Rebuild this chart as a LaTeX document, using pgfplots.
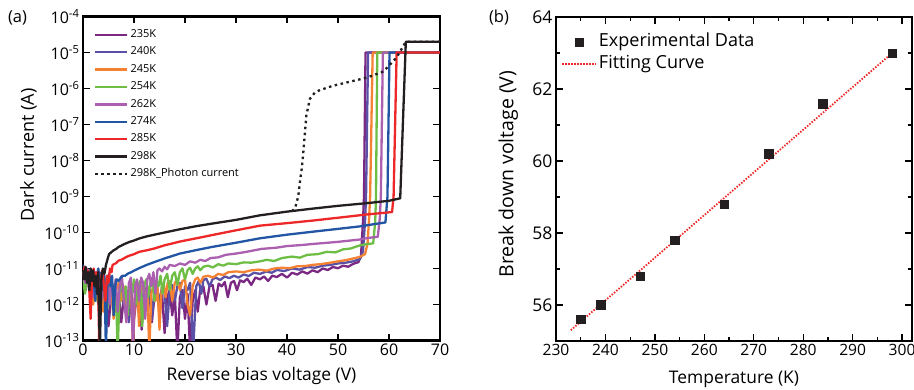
\documentclass[border=0pt]{standalone}
\usepackage{fontspec}
\setmainfont{Open Sans}
\usepackage{pgfplots}
\pgfplotsset{compat=1.18}
\definecolor{cA}{HTML}{7A2882}
\definecolor{cB}{HTML}{5A50A5}
\definecolor{cC}{HTML}{F58232}
\definecolor{cD}{HTML}{6EBE46}
\definecolor{cE}{HTML}{AA5FAF}
\definecolor{cF}{HTML}{2355A5}
\definecolor{cG}{HTML}{EE2828}
\definecolor{cH}{HTML}{231F20}
\definecolor{fitred}{HTML}{EE2828}
\pgfplotsset{
  markimg/.style={legend image code/.code={\draw[##1] plot coordinates {(17pt,0pt)};}},
  lineimg/.style={legend image code/.code={\draw[##1] (0pt,0pt) -- (34pt,0pt);}},
}
\begin{document}
\begin{tikzpicture}[x=1pt,y=1pt]
\useasboundingbox (0,0) rectangle (914,390);
\node[font=\fontsize{16.5}{19}\selectfont] at (17.5,372) {(a)};
\node[font=\fontsize{16.5}{19}\selectfont] at (499,372) {(b)};
\begin{axis}[
  at={(83pt,49.5pt)}, anchor=south west,
  scale only axis, width=357pt, height=324pt,
  xmin=0, xmax=70, ymode=log, ymin=1e-13, ymax=1e-4,
  xtick={0,10,20,30,40,50,60,70},
  ytick={1e-13,1e-12,1e-11,1e-10,1e-9,1e-8,1e-7,1e-6,1e-5,1e-4},
  yticklabels={10\textsuperscript{-13},10\textsuperscript{-12},10\textsuperscript{-11},10\textsuperscript{-10},10\textsuperscript{-9},10\textsuperscript{-8},10\textsuperscript{-7},10\textsuperscript{-6},10\textsuperscript{-5},10\textsuperscript{-4}},
  yminorticks=false,
  tick align=inside,
  major tick length=7pt,
  every tick/.style={black, line width=1.6pt},
  axis line style={line width=2.5pt},
  tick label style={font=\fontsize{16}{19}\selectfont},
  /pgf/number format/assume math mode=true,
  xlabel={Reverse bias voltage (V)},
  ylabel={Dark current (A)},
  xlabel style={font=\fontsize{17.4}{20}\selectfont, at={(axis description cs:0.5,-0.108)}, anchor=center},
  ylabel style={font=\fontsize{18}{21}\selectfont, at={(axis description cs:-0.153,0.573)}, anchor=center},
  legend cell align=left,
  legend image code/.code={\draw[#1] (0pt,0pt) -- (32pt,0pt);},
  legend style={at={(axis description cs:0.031,0.965)}, anchor=north west, draw=none, fill=none, inner sep=0pt,
    font=\fontsize{11}{13}\selectfont, row sep=3.9pt,
    nodes={inner sep=2pt, text height=7.5pt, text depth=2pt}},
  every axis plot/.append style={line width=2.3pt, line join=round},
]
% 235K
\addplot[cA] coordinates {(0,6e-12)(0.5,2.5e-12)(1,7e-12)(1.5,3e-12)(2,8e-12)(2.5,3.2e-12)(3,1.5e-12)(3.5,4e-12)(4,1e-12)(4.5,2.5e-12)(5,2.5e-13)(5.5,1.6e-12)(6,2.5e-12)(6.5,6.3e-13)(7,2e-12)(7.5,3.2e-13)(8,1.6e-12)(8.5,2.5e-12)(9,7.9e-13)(9.5,2e-12)(10,4e-13)(10.5,1.6e-12)(11,2.5e-12)(11.5,2e-13)(12,2e-12)(12.5,1e-12)(13,2.5e-12)(13.5,3.2e-13)(14,1.6e-12)(14.5,2.8e-12)(15,6.3e-13)(15.5,2e-12)(16,1.6e-13)(16.5,1.6e-12)(17,2.5e-12)(17.5,5e-13)(18,2e-12)(18.5,5e-14)(19,1.6e-12)(19.5,2.5e-12)(20,4e-13)(20.5,2e-12)(21,5e-14)(21.5,1.26e-12)(22,2.5e-12)(22.5,6.3e-13)(23,2.8e-12)(23.6,3.2e-12)(24.2,1e-12)(24.8,3.2e-12)(25.4,3.5e-12)(26,1.26e-12)(26.6,3.8e-12)(27.2,3.2e-12)(27.8,4.2e-12)(28.4,1.6e-12)(29,4e-12)(29.6,4.5e-12)(30.2,2.5e-12)(30.8,4.7e-12)(31.5,4.2e-12)(32.2,5.2e-12)(33,3.5e-12)(33.8,5.6e-12)(34.7,5e-12)(35.5,6e-12)(36.3,4.5e-12)(37.1,6.3e-12)(38,5.8e-12)(39,7.1e-12)(40,5.6e-12)(41,7.6e-12)(42,6.8e-12)(43,8.3e-12)(44,7.2e-12)(45,8.9e-12)(46,7.9e-12)(47,1e-11)(48,9.1e-12)(49,1.1e-11)(50,1.02e-11)(51,1.2e-11)(52,1.12e-11)(53,1.35e-11)(54,1.5e-11)(54.5,2.2e-11)(54.9,2e-10)(55.1,1e-9)(55.4,1e-5)(70,1e-5)};
\addlegendentry{235K}
% 240K
\addplot[cB] coordinates {(0,8e-12)(0.5,4e-12)(1,9e-12)(1.5,2.5e-12)(2,6e-12)(2.5,5e-12)(3,1e-12)(3.5,3.2e-12)(4,1.6e-12)(4.5,4e-13)(5,2.5e-12)(5.5,1.26e-12)(6,3.2e-12)(6.5,6.3e-13)(7,2e-12)(7.5,3.2e-12)(8,1e-12)(8.5,2.5e-12)(9,3.2e-13)(9.5,2e-12)(10,3.2e-12)(10.5,1.26e-12)(11,2.5e-12)(11.5,6.3e-13)(12,3.2e-12)(12.5,1.6e-12)(13,2.8e-12)(13.5,4e-13)(14,2.5e-12)(14.5,3.5e-12)(15,1e-12)(15.5,3.2e-12)(16,2e-12)(16.5,2.5e-13)(17,2.5e-12)(17.5,3.5e-12)(18,1.26e-12)(18.5,3.2e-12)(19,4e-12)(19.5,7.9e-13)(20,3.2e-12)(20.5,2.5e-12)(21,4e-12)(21.6,5e-14)(22.2,3.2e-12)(22.7,4.5e-12)(23.2,2e-12)(23.6,4.8e-12)(24.2,5.2e-12)(24.8,3.2e-12)(25.4,5e-12)(26,5.6e-12)(26.9,4.8e-12)(27.8,6e-12)(28.7,5.4e-12)(29.6,6.3e-12)(30.5,5.6e-12)(31.5,6.8e-12)(32.5,6.2e-12)(33.5,7.6e-12)(34.7,7.1e-12)(36,8.3e-12)(37,7.6e-12)(38,9.1e-12)(39.5,8.5e-12)(41,1e-11)(42.5,9.3e-12)(44,1.1e-11)(45.5,1.05e-11)(47,1.2e-11)(48.5,1.26e-11)(50,1.38e-11)(51.5,1.45e-11)(53,1.58e-11)(54.3,1.82e-11)(54.9,3e-11)(55.3,2e-10)(55.5,1e-9)(55.9,1e-5)(70,1e-5)};
\addlegendentry{240K}
% 245K
\addplot[cC] coordinates {(0,7e-12)(0.5,1e-11)(1,4e-12)(1.5,8e-12)(2,1e-12)(2.5,4e-12)(3,2e-12)(3.5,5e-12)(4,6.3e-13)(4.5,3.2e-12)(5,1.6e-12)(5.5,4e-12)(6,4e-13)(6.5,2.5e-12)(7,4e-12)(7.5,1.26e-12)(8,3.2e-12)(8.5,5e-13)(9,2.5e-12)(9.4,3.5e-12)(9.8,5e-14)(10.2,2e-12)(10.6,3.2e-12)(11,2.5e-13)(11.4,2.5e-12)(11.8,4e-12)(12.2,1e-12)(12.6,3.2e-12)(13,5e-14)(13.4,2e-12)(13.8,3.5e-12)(14.2,1.26e-12)(14.6,3.2e-12)(15,2e-13)(15.4,2.5e-12)(15.8,4e-12)(16.2,1.6e-12)(16.6,4e-12)(17,4.5e-12)(17.5,1.26e-12)(18,4e-12)(18.5,5e-12)(19,2.5e-12)(19.5,4.5e-12)(20,5e-12)(20.5,1e-12)(21,5e-13)(21.5,3.2e-12)(22,5e-12)(22.5,5.6e-12)(23,4e-12)(23.6,5.9e-12)(24.5,6.3e-12)(25.5,5.6e-12)(26.5,7.1e-12)(27.5,6.6e-12)(28.5,7.9e-12)(30,8.3e-12)(31.5,7.9e-12)(33,8.9e-12)(34.5,9.3e-12)(36,8.7e-12)(37.5,1e-11)(39,1.05e-11)(40.5,1.02e-11)(42,1.15e-11)(43.5,1.17e-11)(45,1.26e-11)(46.5,1.32e-11)(48,1.41e-11)(50,1.58e-11)(51.5,1.7e-11)(53,1.9e-11)(54.3,2.1e-11)(55.3,2.5e-11)(55.8,5e-11)(56.1,2.5e-10)(56.3,1e-9)(56.8,1e-5)(70,1e-5)};
\addlegendentry{245K}
% 254K
\addplot[cD] coordinates {(0,5e-12)(0.4,2e-12)(0.8,6.3e-12)(1.2,3.2e-12)(1.6,7.9e-12)(2,2.5e-12)(2.4,5.6e-12)(2.8,1.26e-12)(3.2,4e-12)(3.6,6.3e-12)(4,2e-12)(4.4,5e-12)(4.8,7.9e-13)(5.2,3.2e-12)(5.6,5e-12)(6,1.6e-12)(6.4,4e-12)(6.8,5e-14)(7.2,2.5e-12)(7.6,4.5e-12)(8,1.26e-12)(8.4,3.2e-12)(8.8,5e-13)(9.2,3.5e-12)(9.6,2e-12)(10,5e-12)(10.4,1e-12)(10.8,3.2e-12)(11.2,4.5e-12)(11.6,2.5e-13)(12,3.5e-12)(12.4,5e-12)(12.8,1.6e-12)(13.2,4e-12)(13.6,5.6e-12)(14,1.26e-12)(14.4,4.5e-12)(14.8,3.2e-12)(15.2,6.3e-12)(15.6,2e-12)(16,5e-12)(16.5,7.1e-12)(17,2.5e-12)(17.5,6.3e-12)(18,7.9e-12)(18.5,3.5e-12)(19,7.9e-12)(19.5,1e-11)(20,5e-12)(20.5,8.9e-12)(21,1.05e-11)(21.5,7.1e-12)(22,1e-11)(22.5,1.15e-11)(23,8.9e-12)(23.6,1.12e-11)(24.5,1.2e-11)(25.5,1.07e-11)(26.5,1.32e-11)(27.5,1.2e-11)(28.5,1.38e-11)(30,1.32e-11)(31.5,1.48e-11)(33,1.45e-11)(34.7,1.58e-11)(36,1.74e-11)(37.5,1.62e-11)(39,1.95e-11)(41,2.14e-11)(42.5,2e-11)(44,2.4e-11)(46,2.5e-11)(47.8,2.9e-11)(49.5,2.8e-11)(51,3.4e-11)(52.5,3.6e-11)(54.3,4.4e-11)(55.5,4.7e-11)(56.9,5e-11)(57.3,2e-10)(57.45,1e-9)(57.7,1e-5)(70,1e-5)};
\addlegendentry{254K}
% 262K
\addplot[cE] coordinates {(0,7.9e-12)(0.4,4e-12)(0.8,1e-11)(1.2,2.5e-12)(1.6,6.3e-12)(2,1.6e-12)(2.4,7.9e-12)(2.8,3.2e-12)(3.2,6.3e-12)(3.6,1.26e-12)(4,5e-12)(4.4,2.5e-12)(4.8,6.3e-12)(5.2,1e-12)(5.6,4e-12)(6,2e-12)(6.4,5e-12)(6.8,6.3e-13)(7.2,3.2e-12)(7.6,6.3e-12)(8,1.6e-12)(8.5,3.2e-13)(9,4e-12)(9.4,5.6e-12)(9.8,5e-14)(10.2,3.2e-12)(10.6,5e-12)(11,1.26e-12)(11.4,5.6e-12)(11.8,4e-12)(12.2,4e-13)(12.6,5e-12)(13,7.1e-12)(13.4,3.2e-12)(13.8,7.9e-12)(14.2,2e-12)(14.6,8.9e-12)(15,1e-11)(15.5,8.3e-12)(16,1.12e-11)(16.5,9.5e-12)(17,1.26e-11)(18,1.17e-11)(19,1.38e-11)(20,1.26e-11)(21,1.58e-11)(22,1.45e-11)(23,1.74e-11)(24,1.62e-11)(25,1.95e-11)(26.5,2.04e-11)(28,2.4e-11)(30,2.6e-11)(32,2.9e-11)(35,3.5e-11)(38,3.8e-11)(40,4.2e-11)(43,4.5e-11)(45,4.8e-11)(48,5.2e-11)(50,5.5e-11)(52,5.9e-11)(54,6.3e-11)(56,7.1e-11)(57.8,7.6e-11)(58.2,2.5e-10)(58.4,1e-9)(58.8,1e-5)(70,1e-5)};
\addlegendentry{262K}
% 274K
\addplot[cF] coordinates {(0,1.26e-11)(0.3,6.3e-12)(0.6,1e-11)(0.9,4e-12)(1.2,7.9e-12)(1.5,3.2e-12)(1.8,8.9e-12)(2.1,5e-12)(2.4,1.26e-12)(2.7,6.3e-12)(3,1e-11)(3.3,4.5e-12)(3.6,7.9e-12)(3.9,2.5e-12)(4.2,6.3e-12)(4.5,5e-14)(4.8,4e-12)(5.1,7.1e-12)(5.4,3.2e-12)(5.7,6.3e-12)(6,5e-13)(6.3,3.2e-12)(6.6,5e-12)(7,4.5e-12)(7.4,5.6e-12)(7.8,6.3e-12)(8.3,6.3e-12)(8.7,7.1e-12)(9.2,7.6e-12)(10,8.7e-12)(11,1.02e-11)(12.5,1.26e-11)(14,1.51e-11)(16,1.9e-11)(19,2.6e-11)(22,3.2e-11)(25,3.9e-11)(30,5.2e-11)(34.7,6.9e-11)(40,8.7e-11)(45,1.05e-10)(50,1.26e-10)(54.3,1.48e-10)(57,1.7e-10)(59.3,1.9e-10)(59.7,1e-9)(60.1,1e-5)(70,1e-5)};
\addlegendentry{274K}
% 285K
\addplot[cG] coordinates {(0,6.3e-12)(0.3,1.12e-11)(0.6,5e-12)(0.9,8.9e-12)(1.2,3.2e-12)(1.5,4e-13)(1.8,6.3e-12)(2.1,1e-11)(2.4,4e-12)(2.7,7.9e-12)(3,2.5e-12)(3.2,5e-14)(3.5,5e-12)(3.8,8.9e-12)(4.1,3.2e-12)(4.4,1.26e-12)(4.7,6.3e-12)(5,4e-12)(5.3,1e-11)(5.6,7.9e-12)(5.8,1.26e-11)(6.1,1.32e-11)(6.5,1.41e-11)(7,1.66e-11)(7.5,1.74e-11)(8,1.9e-11)(8.5,2.1e-11)(9.2,2.3e-11)(10,2.5e-11)(11,2.9e-11)(12.5,3.2e-11)(14,3.6e-11)(16,4.4e-11)(19,5.6e-11)(22,6.8e-11)(25,8.3e-11)(30,1.15e-10)(34.7,1.55e-10)(40,1.82e-10)(45,2.14e-10)(50,2.57e-10)(55.6,3.16e-10)(60.6,3.7e-10)(60.9,1e-9)(61.5,1e-5)(70,1e-5)};
\addlegendentry{285K}
% 298K
\addplot[cH] coordinates {(0,8.9e-12)(0.25,5e-12)(0.5,1.12e-11)(0.75,4e-12)(1,7.9e-12)(1.25,2.5e-12)(1.5,1e-11)(1.75,4.5e-12)(2,8.9e-12)(2.25,3.2e-12)(2.5,6.3e-12)(2.75,2e-12)(3,7.9e-12)(3.3,5e-14)(3.6,5e-12)(3.9,1e-11)(4.2,7.1e-12)(4.5,1.26e-11)(4.8,1.78e-11)(5.1,2.5e-11)(5.5,2.8e-11)(6,3.2e-11)(6.5,3.5e-11)(7,4e-11)(7.5,4.3e-11)(8,4.7e-11)(9,5.4e-11)(10,6e-11)(11,6.8e-11)(12.5,7.8e-11)(14,8.7e-11)(16,1e-10)(19,1.23e-10)(22,1.48e-10)(25,1.74e-10)(30,2.24e-10)(34.7,3e-10)(40,3.8e-10)(45,4.6e-10)(50,5.5e-10)(56,6.6e-10)(60,7.6e-10)(62.2,8.9e-10)(63.3,2e-5)(70,2e-5)};
\addlegendentry{298K}
% photon current
\addplot[cH, dash pattern=on 2.5pt off 3.5pt] coordinates {(41,3.9e-10)(41.6,4.8e-10)(42.2,1e-9)(42.6,3e-9)(42.9,6e-9)(43.2,1.7e-8)(43.8,1.8e-7)(44.5,5.2e-7)(45.5,7.8e-7)(46.5,9.1e-7)(49.1,1.2e-6)(52.4,1.55e-6)(55.6,2e-6)(58.9,2.95e-6)(61.4,7e-6)(62.8,1.5e-5)(63.3,2e-5)(70,2e-5)};
\addlegendentry{298K\_Photon current}
\end{axis}
\begin{axis}[
  at={(556pt,49pt)}, anchor=south west,
  scale only axis, width=356pt, height=324pt,
  xmin=230, xmax=302, ymin=55, ymax=64,
  xtick={230,240,250,260,270,280,290,300},
  ytick={56,58,60,62,64},
  minor x tick num=1, minor y tick num=1,
  tick align=inside,
  major tick length=7pt, minor tick length=4pt,
  every tick/.style={black, line width=1.3pt},
  axis line style={line width=1.8pt},
  xticklabel style={font=\fontsize{15.6}{18}\selectfont},
  yticklabel style={font=\fontsize{17.5}{20}\selectfont},
  /pgf/number format/assume math mode=true,
  xlabel={Temperature (K)},
  ylabel={Break down voltage (V)},
  xlabel style={font=\fontsize{17.4}{20}\selectfont, at={(axis description cs:0.5,-0.117)}, anchor=center},
  ylabel style={font=\fontsize{19.5}{22}\selectfont, at={(axis description cs:-0.134,0.515)}, anchor=center},
  legend cell align=left,
  legend style={at={(axis description cs:0.014,0.954)}, anchor=north west, draw=none, fill=none, inner sep=0pt,
    font=\fontsize{18}{21}\selectfont, row sep=1.5pt,
    nodes={inner sep=2pt, text height=12.5pt, text depth=3.5pt}},
]
\addplot[only marks, mark=square*, mark size=4.3pt, color=cH, markimg]
  coordinates {(235,55.6)(239,56.0)(247,56.8)(254,57.8)(264,58.8)(273,60.2)(284,61.6)(298,63.0)};
\addlegendentry{Experimental Data}
\addplot[fitred, line width=1.8pt, dash pattern=on 1.5pt off 1.5pt, no marks, lineimg]
  coordinates {(233,55.3)(298,63.0)};
\addlegendentry{Fitting Curve}
\end{axis}
\end{tikzpicture}
\end{document}
